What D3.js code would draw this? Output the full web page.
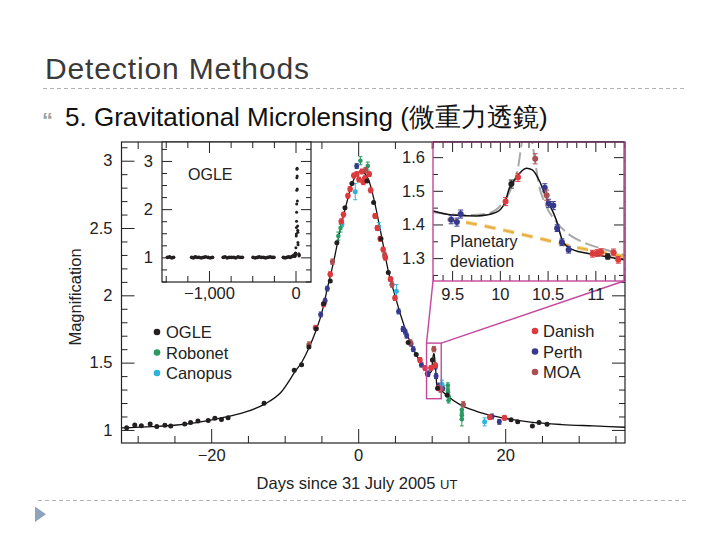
<!DOCTYPE html>
<html><head><meta charset="utf-8">
<script src="https://cdn.jsdelivr.net/npm/d3@7"></script>
<style>body{margin:0;background:#fff}svg{display:block}</style>
</head><body>
<svg id="c" width="720" height="540"></svg>
<script>
// ---------------- DATA ----------------
const slideTitle = "Detection Methods";
const bulletText = "5. Gravitational Microlensing (微重力透鏡)";
const yLabel = "Magnification";
const xLabel = "Days since 31 July 2005 ";
const xLabelSmall = "UT";

// main light curve, [day, magnification, error]
const ogle = [[-31.5,1.017],[-30.4,1.037],[-29.5,1.032],[-28.3,1.045],[-27.4,1.025],[-26.3,1.035],[-25.5,1.030],[-23.6,1.045],[-22.8,1.055],[-21.8,1.067],[-20.4,1.070],[-19.5,1.087],[-18.6,1.077],[-17.7,1.090],[-12.8,1.199],[-8.7,1.443],[-7.7,1.485],[-6.7,1.617],[-5.7,1.751],[-4.7,1.938],[-3.8,2.107],[-2.9,2.39],[-1.8,2.65],[-0.85,2.83],[1.2,2.85],[2.1,2.69],[3.1,2.42],[4.1,2.17],[6.8,1.65],[7.9,1.56],[10.1,1.52],[10.8,1.31],[12.1,1.26],[20.8,1.075],[21.7,1.06],[23.7,1.03],[24.6,1.055],[25.7,1.043]];
const robonet = [[-2.7,2.44,0.03],[-2.4,2.5,0.03],[0.3,3.0,0.03],[1.3,2.96,0.03],[12.2,1.33,0.02],[12.2,1.29,0.02],[12.3,1.25,0.03],[12.3,1.22,0.02],[14.1,1.15,0.03],[14.1,1.11,0.03],[14.1,1.08,0.05]];
const canopus = [[-2.2,2.53,0.02],[-0.4,2.77,0.06],[2.8,2.51,0.03],[5.2,2.03,0.05],[11.4,1.34,0.03],[17.2,1.06,0.03]];
const danish = [[-5.8,1.759],[-4.7,1.933],[-3.8,2.157],[-2.3,2.55],[-2.0,2.60],[-1.4,2.74],[-1.1,2.79],[-0.6,2.89],[-0.2,2.9],[0.1,2.86],[0.5,2.92],[0.7,2.84],[0.9,2.87],[1.5,2.9],[1.7,2.78],[2.3,2.59],[2.6,2.5],[3.0,2.42],[3.4,2.34],[3.7,2.28],[4.4,2.12],[5.0,1.98],[8.4,1.52],[9.1,1.46],[9.9,1.46],[10.5,1.48],[10.9,1.31],[17.9,1.095],[19.9,1.09]];
const perth = [[-5.1,1.858],[-4.5,1.96],[-4.2,2.05],[-0.2,2.96],[5.5,1.88],[6.1,1.75],[6.4,1.73],[6.6,1.70],[7.2,1.64],[7.5,1.60],[8.6,1.485],[9.4,1.42],[9.5,1.414],[10.5,1.47],[10.6,1.40],[11.0,1.33],[11.5,1.31],[18.2,1.10],[19.2,1.06]];
const moa = [[-6.7,1.634],[-3.5,2.25],[1.0,2.93],[3.6,2.3],[4.6,2.08],[7.1,1.65],[10.3,1.60],[11.2,1.30],[14.3,1.19]];

// best-fit model curve
const modelDays = [-32.2,-28,-25,-22,-18.6,-15.5,-12.8,-10.5,-8.5,-7.6,-6.7,-5.8,-5.0,-4.2,-3.3,-2.4,-1.5,-0.6,0.4,1.4,2.2,3.1,4.1,5.0,5.8,6.6,7.5,8.4,9.3,9.5,9.76,9.96,10.05,10.10,10.17,10.28,10.34,10.41,10.48,10.59,10.66,10.73,10.9,11.11,11.3,12.0,13.8,16,18.7,23.2,27.7,32,36.3];
const modelMag  = [1.015,1.025,1.035,1.055,1.09,1.13,1.19,1.28,1.44,1.51,1.61,1.73,1.86,2.05,2.26,2.50,2.70,2.86,2.92,2.86,2.70,2.46,2.18,2.00,1.85,1.72,1.60,1.51,1.44,1.428,1.425,1.436,1.463,1.508,1.539,1.567,1.562,1.532,1.483,1.414,1.349,1.330,1.315,1.305,1.295,1.26,1.19,1.14,1.10,1.06,1.04,1.03,1.02];

// OGLE archive inset (long baseline)
const archiveDays = [-1480,-1455,-1430,-1410,-1200,-1180,-1160,-1140,-1115,-1090,-1065,-1040,-1010,-985,-960,-835,-815,-790,-765,-740,-715,-690,-665,-640,-615,-490,-465,-440,-420,-395,-370,-345,-320,-295,-270,-250,-140,-120,-100,-80,-60,-40,-20,-8];
const archiveMag  = [1.0,1.01,0.99,1.0,1.0,0.99,1.01,1.0,1.0,0.99,1.0,1.01,1.0,0.99,1.0,1.0,1.01,0.99,1.0,1.0,1.0,0.99,1.01,1.0,1.0,1.0,0.99,1.0,1.01,1.0,1.0,0.99,1.0,1.01,1.0,1.0,1.0,0.99,1.0,1.01,1.0,1.02,1.04,1.03];

// planetary deviation zoom, [day, magnification, error]
const zoomOgle = [[10.12,1.520,0.012],[11.13,1.305,0.008]];
const zoomDanish = [[10.06,1.468,0.012],[10.19,1.540,0.012],[10.97,1.313,0.01],[11.02,1.315,0.01],[11.06,1.318,0.01],[11.19,1.317,0.01],[11.24,1.295,0.01]];
const zoomPerth = [[9.49,1.414,0.012],[9.55,1.407,0.012],[9.59,1.431,0.012],[10.47,1.509,0.012],[10.51,1.463,0.012],[10.56,1.456,0.012],[10.60,1.389,0.01],[10.65,1.347,0.01],[10.72,1.325,0.01]];
const zoomMoa = [[10.37,1.595,0.015],[10.49,1.487,0.015]];
const grayLeftDays = [9.3,9.62,9.86,10.03,10.12,10.19,10.22,10.25];
const grayLeftMag  = [1.436,1.428,1.432,1.463,1.508,1.567,1.626,1.68];
const grayRightDays = [10.32,10.36,10.41,10.48,10.59,10.73,10.90,11.11,11.3];
const grayRightMag  = [1.68,1.606,1.517,1.458,1.408,1.369,1.344,1.325,1.31];
const pointLensDays = [9.45,9.685,10.10,10.48,10.83,11.11,11.3];
const pointLensMag  = [1.415,1.404,1.379,1.354,1.330,1.315,1.305];

// ticks & legend
const mainXLabels = [-20,0,20];
const mainYLabels = [1,1.5,2,2.5,3];
const archXLabels = [-1000,0];
const archYLabels = [1,2,3];
const zoomXLabels = [9.5,10,10.5,11];
const zoomYLabels = [1.3,1.4,1.5,1.6];
const legendLeft = ["OGLE","Robonet","Canopus"];
const legendRight = ["Danish","Perth","MOA"];

// ---------------- STYLE ----------------
const COL = {OGLE:"#231f20",Robonet:"#2a9a60",Canopus:"#2fb3dc",Danish:"#dc3a3c",Perth:"#363a8c",MOA:"#aa4f52"};
const PINK = "#c4479c";
const FONT = "'Liberation Sans', Arial, Helvetica, sans-serif";

const svg = d3.select("#c");
svg.append("rect").attr("width",720).attr("height",540).attr("fill","#fff");

// slide header
svg.append("text").attr("x",45).attr("y",79).attr("font-family",FONT).attr("font-size",30)
  .attr("fill","#3a3a3a").attr("textLength",264).text(slideTitle);
svg.append("line").attr("x1",43).attr("x2",686).attr("y1",88.5).attr("y2",88.5)
  .attr("stroke","#b3b3b3").attr("stroke-width",1).attr("stroke-dasharray","4,3");
svg.append("text").attr("x",42).attr("y",128).attr("font-family",FONT).attr("font-size",22)
  .attr("font-weight","bold").attr("fill","#a0a0a0").text("\u201C");
svg.append("text").attr("x",65).attr("y",126).attr("font-family",FONT).attr("font-size",26)
  .attr("fill","#111").text(bulletText);
svg.append("line").attr("x1",38).attr("x2",686).attr("y1",500.5).attr("y2",500.5)
  .attr("stroke","#b3b3b3").attr("stroke-width",1).attr("stroke-dasharray","4,3");
svg.append("path").attr("d","M35,506.5L35,522L46,514.2Z").attr("fill","#8ea4bd");

// ---------------- MAIN PLOT ----------------
const L=121.5,R=625,T=142,B=443;
const x = d3.scaleLinear().domain([-32.2,36.3]).range([L,R]);
const y = d3.scaleLinear().domain([0.903,3.139]).range([B,T]);

const defs = svg.append("defs");
defs.append("clipPath").attr("id","clipMain").append("rect").attr("x",L).attr("y",T).attr("width",R-L).attr("height",B-T);

function styleAxis(g){
  g.select(".domain").remove();
  g.selectAll("line").attr("stroke","#222").attr("stroke-width",1);
  g.selectAll("text").attr("font-family",FONT).attr("font-size",16.5).attr("fill","#222");
}
function range(a,b,s){const out=[];for(let v=a;v<=b+1e-9;v+=s)out.push(+v.toFixed(6));return out;}

const fmt = d=> (d<0?"\u2212":"")+d3.format(",")(Math.abs(d));
// bottom
const xMinor = range(-30,35,5).filter(v=>!mainXLabels.includes(v));
svg.append("g").attr("transform",`translate(0,${B})`).call(d3.axisBottom(x).tickValues(xMinor).tickSize(-7).tickFormat("")).call(styleAxis);
svg.append("g").attr("transform",`translate(0,${B})`).call(d3.axisBottom(x).tickValues(mainXLabels).tickSize(-14).tickPadding(6).tickFormat(fmt)).call(styleAxis);
// top
svg.append("g").attr("transform",`translate(0,${T})`).call(d3.axisTop(x).tickValues(xMinor).tickSize(-7).tickFormat("")).call(styleAxis);
svg.append("g").attr("transform",`translate(0,${T})`).call(d3.axisTop(x).tickValues(mainXLabels).tickSize(-14).tickFormat("")).call(styleAxis);
// left/right
const yMinor = range(1,3.1,0.1).filter(v=>!mainYLabels.some(m=>Math.abs(m-v)<1e-6));
svg.append("g").attr("transform",`translate(${L},0)`).call(d3.axisLeft(y).tickValues(yMinor).tickSize(-6).tickFormat("")).call(styleAxis);
svg.append("g").attr("transform",`translate(${L},0)`).call(d3.axisLeft(y).tickValues(mainYLabels).tickSize(-13).tickPadding(9).tickFormat(d=>String(d))).call(styleAxis);
svg.append("g").attr("transform",`translate(${R},0)`).call(d3.axisRight(y).tickValues(yMinor).tickSize(-6).tickFormat("")).call(styleAxis);
svg.append("g").attr("transform",`translate(${R},0)`).call(d3.axisRight(y).tickValues(mainYLabels).tickSize(-13).tickFormat("")).call(styleAxis);

svg.append("rect").attr("x",L).attr("y",T).attr("width",R-L).attr("height",B-T)
  .attr("fill","none").attr("stroke","#222").attr("stroke-width",1.2);

// model curve
const mainG = svg.append("g").attr("clip-path","url(#clipMain)");
const model = modelDays.map((d,i)=>[d,modelMag[i]]);
mainG.append("path").datum(model).attr("fill","none").attr("stroke","#111").attr("stroke-width",1.3)
  .attr("d",d3.line().x(d=>x(d[0])).y(d=>y(d[1])).curve(d3.curveMonotoneX));

function drawPts(g,data,xs,ys,color,r,defErr,cap){
  const gg = g.append("g");
  data.forEach(p=>{
    const e = p[2]!==undefined?p[2]:defErr;
    const cx=xs(p[0]), cy=ys(p[1]);
    if(e>0){
      const y1=ys(p[1]+e), y2=ys(p[1]-e);
      gg.append("line").attr("x1",cx).attr("x2",cx).attr("y1",y1).attr("y2",y2).attr("stroke",color).attr("stroke-width",1);
      gg.append("line").attr("x1",cx-cap).attr("x2",cx+cap).attr("y1",y1).attr("y2",y1).attr("stroke",color).attr("stroke-width",1);
      gg.append("line").attr("x1",cx-cap).attr("x2",cx+cap).attr("y1",y2).attr("y2",y2).attr("stroke",color).attr("stroke-width",1);
    }
    gg.append("circle").attr("cx",cx).attr("cy",cy).attr("r",r).attr("fill",color);
  });
}
drawPts(mainG,perth,x,y,COL.Perth,2.5,0.018,2);
drawPts(mainG,canopus,x,y,COL.Canopus,2.5,0.02,2);
drawPts(mainG,robonet,x,y,COL.Robonet,2.3,0.02,2);
drawPts(mainG,moa,x,y,COL.MOA,2.6,0.02,2);
drawPts(mainG,danish,x,y,COL.Danish,2.8,0.018,2);
drawPts(mainG,ogle,x,y,COL.OGLE,2.5,0.008,1.5);

// ---------------- ZOOM BOX + CONNECTORS ----------------
const ZL=433,ZR=624,ZT=T,ZB=281;
const zx = d3.scaleLinear().domain([9.3,11.3]).range([ZL,ZR]);
const zy = d3.scaleLinear().domain([1.232,1.645]).range([ZB,ZT]);
const bx0=x(zx.domain()[0]), bx1=x(zx.domain()[1]), by0=y(zy.domain()[1]), by1=y(zy.domain()[0]);
svg.append("rect").attr("x",bx0).attr("y",by0).attr("width",bx1-bx0).attr("height",by1-by0)
  .attr("fill","none").attr("stroke",PINK).attr("stroke-width",1.4);
svg.append("line").attr("x1",bx0).attr("y1",by0).attr("x2",ZL).attr("y2",ZB).attr("stroke",PINK).attr("stroke-width",1.4);
svg.append("line").attr("x1",bx1).attr("y1",by0).attr("x2",ZR).attr("y2",ZB).attr("stroke",PINK).attr("stroke-width",1.4);

// ---------------- ARCHIVE INSET ----------------
const AL=162,AR=311,AT=T,AB=282;
const ax = d3.scaleLinear().domain([-1543,179]).range([AL,AR]);
const ay = d3.scaleLinear().domain([0.489,3.393]).range([AB,AT]);
svg.append("rect").attr("x",AL).attr("y",AT).attr("width",AR-AL).attr("height",AB-AT).attr("fill","#fff");
defs.append("clipPath").attr("id","clipA").append("rect").attr("x",AL).attr("y",AT).attr("width",AR-AL).attr("height",AB-AT);
const aMinor = range(-1500,0,250).filter(v=>!archXLabels.includes(v));
const ayMinor = range(0.5,3.25,0.25).filter(v=>!archYLabels.includes(v));
svg.append("g").attr("transform",`translate(0,${AB})`).call(d3.axisBottom(ax).tickValues(aMinor).tickSize(-6).tickFormat("")).call(styleAxis);
svg.append("g").attr("transform",`translate(0,${AB})`).call(d3.axisBottom(ax).tickValues(archXLabels).tickSize(-11).tickPadding(5).tickFormat(fmt)).call(styleAxis);
svg.append("g").attr("transform",`translate(0,${AT})`).call(d3.axisTop(ax).tickValues(aMinor).tickSize(-6).tickFormat("")).call(styleAxis);
svg.append("g").attr("transform",`translate(0,${AT})`).call(d3.axisTop(ax).tickValues(archXLabels).tickSize(-11).tickFormat("")).call(styleAxis);
svg.append("g").attr("transform",`translate(${AL},0)`).call(d3.axisLeft(ay).tickValues(ayMinor).tickSize(-5).tickFormat("")).call(styleAxis);
svg.append("g").attr("transform",`translate(${AL},0)`).call(d3.axisLeft(ay).tickValues(archYLabels).tickSize(-10).tickPadding(9).tickFormat(d=>String(d))).call(styleAxis);
svg.append("g").attr("transform",`translate(${AR},0)`).call(d3.axisRight(ay).tickValues(ayMinor).tickSize(-5).tickFormat("")).call(styleAxis);
svg.append("g").attr("transform",`translate(${AR},0)`).call(d3.axisRight(ay).tickValues(archYLabels).tickSize(-10).tickFormat("")).call(styleAxis);
svg.append("rect").attr("x",AL).attr("y",AT).attr("width",AR-AL).attr("height",AB-AT).attr("fill","none").attr("stroke","#222").attr("stroke-width",1.2);
const aG = svg.append("g").attr("clip-path","url(#clipA)");
archiveDays.forEach((d,i)=>aG.append("circle").attr("cx",ax(d)).attr("cy",ay(archiveMag[i])).attr("r",1.9).attr("fill",COL.OGLE));
ogle.forEach(p=>aG.append("circle").attr("cx",ax(p[0]*1.0)+1.5).attr("cy",ay(p[1])).attr("r",1.5).attr("fill",COL.OGLE));
svg.append("text").attr("x",188).attr("y",180).attr("font-family",FONT).attr("font-size",16).attr("fill","#222").text("OGLE");

// ---------------- ZOOM INSET ----------------
svg.append("rect").attr("x",ZL).attr("y",ZT).attr("width",ZR-ZL).attr("height",ZB-ZT).attr("fill","#fff");
defs.append("clipPath").attr("id","clipZ").append("rect").attr("x",ZL).attr("y",ZT).attr("width",ZR-ZL).attr("height",ZB-ZT);
const zxMinor = range(9.3,11.3,0.1).filter(v=>!zoomXLabels.some(m=>Math.abs(m-v)<1e-6));
const zyMinor = range(1.25,1.6,0.05).filter(v=>!zoomYLabels.some(m=>Math.abs(m-v)<1e-6));
svg.append("g").attr("transform",`translate(0,${ZB})`).call(d3.axisBottom(zx).tickValues(zxMinor).tickSize(-6).tickFormat("")).call(styleAxis);
svg.append("g").attr("transform",`translate(0,${ZB})`).call(d3.axisBottom(zx).tickValues(zoomXLabels).tickSize(-10).tickPadding(7).tickFormat(d=>String(d))).call(styleAxis);
svg.append("g").attr("transform",`translate(0,${ZT})`).call(d3.axisTop(zx).tickValues(zxMinor).tickSize(-6).tickFormat("")).call(styleAxis);
svg.append("g").attr("transform",`translate(0,${ZT})`).call(d3.axisTop(zx).tickValues(zoomXLabels).tickSize(-10).tickFormat("")).call(styleAxis);
svg.append("g").attr("transform",`translate(${ZL},0)`).call(d3.axisLeft(zy).tickValues(zyMinor).tickSize(-5).tickFormat("")).call(styleAxis);
svg.append("g").attr("transform",`translate(${ZL},0)`).call(d3.axisLeft(zy).tickValues(zoomYLabels).tickSize(-10).tickPadding(8).tickFormat(d=>String(d))).call(styleAxis);
svg.append("g").attr("transform",`translate(${ZR},0)`).call(d3.axisRight(zy).tickValues(zyMinor).tickSize(-5).tickFormat("")).call(styleAxis);
svg.append("g").attr("transform",`translate(${ZR},0)`).call(d3.axisRight(zy).tickValues(zoomYLabels).tickSize(-10).tickFormat("")).call(styleAxis);

const zG = svg.append("g").attr("clip-path","url(#clipZ)");
const zline = d3.line().x(d=>zx(d[0])).y(d=>zy(d[1])).curve(d3.curveMonotoneX);
zG.append("path").datum(pointLensDays.map((d,i)=>[d,pointLensMag[i]])).attr("fill","none")
  .attr("stroke","#f3d9a0").attr("stroke-width",4).attr("stroke-dasharray","11,8").attr("d",zline);
zG.append("path").datum(pointLensDays.map((d,i)=>[d,pointLensMag[i]])).attr("fill","none")
  .attr("stroke","#e8b040").attr("stroke-width",2.2).attr("stroke-dasharray","11,8").attr("d",zline);
zG.append("path").datum(grayLeftDays.map((d,i)=>[d,grayLeftMag[i]])).attr("fill","none")
  .attr("stroke","#a9a9a9").attr("stroke-width",2).attr("stroke-dasharray","14,5").attr("d",zline);
zG.append("path").datum(grayRightDays.map((d,i)=>[d,grayRightMag[i]])).attr("fill","none")
  .attr("stroke","#a9a9a9").attr("stroke-width",2).attr("stroke-dasharray","14,5").attr("d",zline);
zG.append("path").datum(model.filter(p=>p[0]>=9.0&&p[0]<=12)).attr("fill","none")
  .attr("stroke","#111").attr("stroke-width",1.5).attr("d",zline);
drawPts(zG,zoomPerth,zx,zy,COL.Perth,3,0.012,2.5);
drawPts(zG,zoomMoa,zx,zy,COL.MOA,3,0.015,2.5);
drawPts(zG,zoomDanish,zx,zy,COL.Danish,3,0.012,2.5);
drawPts(zG,zoomOgle,zx,zy,COL.OGLE,3,0.01,2.5);
svg.append("rect").attr("x",ZL).attr("y",ZT).attr("width",ZR-ZL).attr("height",ZB-ZT).attr("fill","none").attr("stroke",PINK).attr("stroke-width",1.4);
svg.append("line").attr("x1",ZL).attr("x2",ZR).attr("y1",ZT).attr("y2",ZT).attr("stroke","#222").attr("stroke-width",1.2);
svg.append("text").attr("x",450).attr("y",247).attr("font-family",FONT).attr("font-size",16).attr("fill","#222").text("Planetary");
svg.append("text").attr("x",450).attr("y",267).attr("font-family",FONT).attr("font-size",16).attr("fill","#222").text("deviation");

// ---------------- LEGENDS ----------------
legendLeft.forEach((n,i)=>{
  const yy = 337 + i*20.5;
  svg.append("circle").attr("cx",157).attr("cy",yy-5).attr("r",3.3).attr("fill",COL[n]);
  svg.append("text").attr("x",166).attr("y",yy+1).attr("font-family",FONT).attr("font-size",16.5).attr("fill","#222").text(n);
});
legendRight.forEach((n,i)=>{
  const yy = 336 + i*20.5;
  svg.append("circle").attr("cx",535).attr("cy",yy-5).attr("r",3.3).attr("fill",COL[n]);
  svg.append("text").attr("x",543).attr("y",yy+1).attr("font-family",FONT).attr("font-size",16.5).attr("fill","#222").text(n);
});

// ---------------- AXIS TITLES ----------------
svg.append("text").attr("transform","translate(81,297) rotate(-90)").attr("text-anchor","middle")
  .attr("font-family",FONT).attr("font-size",16.5).attr("fill","#222").text(yLabel);
const xt = svg.append("text").attr("x",357).attr("y",489).attr("text-anchor","middle")
  .attr("font-family",FONT).attr("font-size",16.5).attr("fill","#222");
xt.append("tspan").text(xLabel);
xt.append("tspan").attr("font-size",13).text(xLabelSmall);
</script>
</body></html>
